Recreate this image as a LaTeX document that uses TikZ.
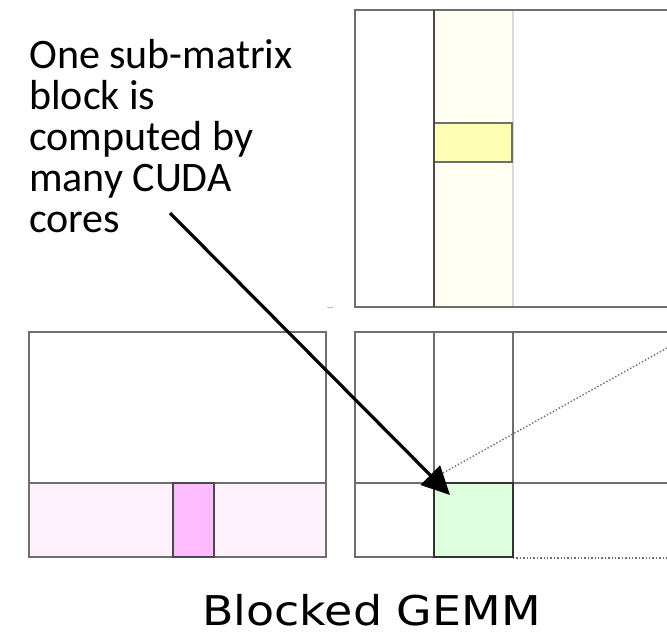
\documentclass[tikz,border=0pt]{standalone}
\usepackage{fontspec}
\usetikzlibrary{arrows.meta}
\newfontfamily\calfont{Carlito}
\newfontfamily\verfont[FakeStretch=1.12]{DejaVu Sans}
\definecolor{gridgray}{HTML}{6E6E6E}
\definecolor{darkgray2}{HTML}{4A4A4A}
\definecolor{lightline}{HTML}{DADADA}
\definecolor{paleyellow}{HTML}{FFFFF2}
\definecolor{blockyellow}{HTML}{FFFFB3}
\definecolor{palepink}{HTML}{FFF2FD}
\definecolor{blockpink}{HTML}{FFBBFF}
\definecolor{blockgreen}{HTML}{DEFFDE}
\tikzset{
  gridline/.style={draw=gridgray, line width=1.6pt},
  thinline/.style={draw=gridgray, line width=1.3pt},
  blockbox/.style={draw=darkgray2, line width=1.6pt},
  dotline/.style={draw=gridgray, line width=1.4pt, dotted},
  callout/.style={line width=3.2pt, -{Triangle[length=28pt,width=27pt]}},
}
\begin{document}
\begin{tikzpicture}[x=1pt,y=-1pt]
\useasboundingbox (0,0) rectangle (667,632);
\begin{scope}
\clip (0,0) rectangle (667,632);
% top-right matrix
\fill[paleyellow] (434,10) rectangle (513,307);
\draw[lightline, line width=1.6pt] (513,10) -- (513,307);
\draw[blockbox, fill=blockyellow, draw=gridgray, line width=1.3pt] (434,123) rectangle (512,162);
\draw[gridline] (680,10) -- (355,10) -- (355,307) -- (680,307);
\draw[gridline, draw=darkgray2] (434,10) -- (434,307);
% small tick
\draw[lightline!70!gray, line width=1pt] (327,307) -- (333,307);
% bottom-left matrix
\fill[palepink] (29,483) rectangle (326,557);
\draw[gridline] (29,332) rectangle (326,557);
\draw[gridline] (29,483) -- (326,483);
\draw[blockbox, fill=blockpink] (173,483) rectangle (214,557);
% bottom-right matrix
\draw[gridline] (680,332) -- (355,332) -- (355,557) -- (513,557);
\draw[thinline] (434,332) -- (434,483);
\draw[thinline] (513,332) -- (513,483);
\draw[gridline] (355,483) -- (680,483);
\draw[dotline] (513,558) -- (680,558);
\draw[dotline] (443,473) -- (667,348);
\draw[blockbox, draw=black!80, fill=blockgreen] (434,483) rectangle (513,557);
\end{scope}
% texts
\node[anchor=base west, align=left, inner sep=0pt, font=\calfont\fontsize{42}{41}\selectfont] (note) at (29,232)
  {One sub-matrix\\block is\\computed by\\many CUDA\\cores};
\node[anchor=base, inner sep=0pt, text depth=0pt, font=\verfont\fontsize{41}{48}\selectfont] (title) at (371.5,625) {Blocked GEMM};
% arrow
\coordinate (arrS) at (170,213);
\coordinate (arrE) at (450,495);
\draw[callout] (arrS) -- (arrE);
\end{tikzpicture}
\end{document}
